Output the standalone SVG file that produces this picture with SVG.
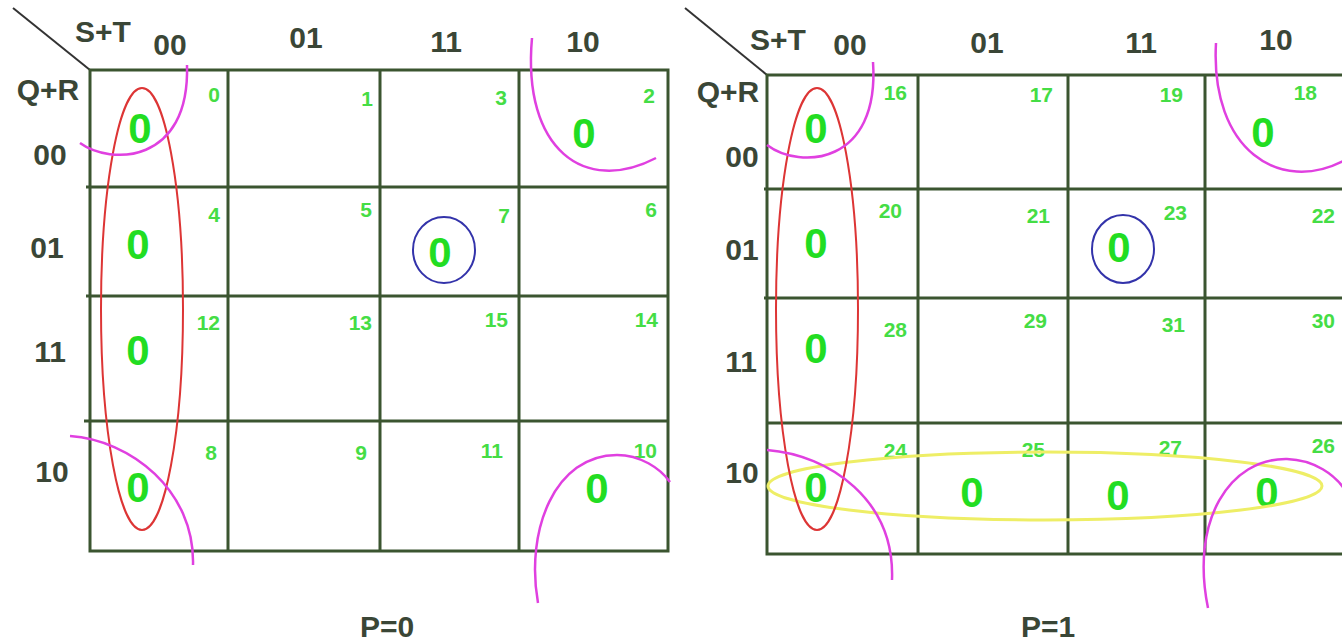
<svg xmlns="http://www.w3.org/2000/svg" width="1342" height="644" viewBox="0 0 1342 644">
<style>
.grid{fill:none;stroke:#3b5530;stroke-width:3}
.lab{font-family:"Liberation Sans",Arial,sans-serif;font-weight:bold;font-size:30px;fill:#3a4636;text-anchor:middle}
.num{font-family:"Liberation Sans",Arial,sans-serif;font-weight:bold;font-size:21px;fill:#45dd45;text-anchor:end}
.val{font-family:"Liberation Sans",Arial,sans-serif;font-weight:bold;font-size:42px;fill:#22dd22;text-anchor:middle}
.red{fill:none;stroke:#dd3535;stroke-width:2}
.mag{fill:none;stroke:#e040e0;stroke-width:2.5}
.blue{fill:none;stroke:#3333aa;stroke-width:2}
.yel{fill:none;stroke:#eeee66;stroke-width:3}
</style>
<rect width="1342" height="644" fill="#ffffff"/>

<!-- Left map P=0 -->
<g id="map-p0">
  <g id="grid-p0">
    <line x1="13" y1="8" x2="90" y2="70" stroke="#333" stroke-width="2"/>
    <rect class="grid" x="90" y="70" width="578" height="481"/>
    <line class="grid" x1="228" y1="70" x2="228" y2="551"/>
    <line class="grid" x1="380" y1="70" x2="380" y2="551"/>
    <line class="grid" x1="519" y1="70" x2="519" y2="551"/>
    <line class="grid" x1="86" y1="187" x2="668" y2="187"/>
    <line class="grid" x1="86" y1="296" x2="668" y2="296"/>
    <line class="grid" x1="84" y1="421" x2="668" y2="421"/>
  </g>
  <g id="labels-p0">
    <text class="lab" x="103" y="42">S+T</text>
    <text class="lab" x="170" y="55">00</text>
    <text class="lab" x="306" y="48">01</text>
    <text class="lab" x="446" y="52">11</text>
    <text class="lab" x="583" y="52">10</text>
    <text class="lab" x="48" y="100">Q+R</text>
    <text class="lab" x="50" y="165">00</text>
    <text class="lab" x="47" y="258">01</text>
    <text class="lab" x="50" y="362">11</text>
    <text class="lab" x="52" y="482">10</text>
    <text class="lab" x="387" y="637">P=0</text>
  </g>
  <g id="cells-p0">
    <g id="c0"><text class="num" x="220" y="102">0</text><text class="val" x="140" y="143">0</text></g>
    <g id="c1"><text class="num" x="373" y="106">1</text></g>
    <g id="c3"><text class="num" x="507" y="105">3</text></g>
    <g id="c2"><text class="num" x="655" y="103">2</text><text class="val" x="584" y="148">0</text></g>
    <g id="c4"><text class="num" x="220" y="222">4</text><text class="val" x="138" y="259">0</text></g>
    <g id="c5"><text class="num" x="372" y="217">5</text></g>
    <g id="c7"><text class="num" x="510" y="223">7</text><text class="val" x="440" y="267">0</text></g>
    <g id="c6"><text class="num" x="657" y="217">6</text></g>
    <g id="c12"><text class="num" x="220" y="330">12</text><text class="val" x="138" y="365">0</text></g>
    <g id="c13"><text class="num" x="372" y="330">13</text></g>
    <g id="c15"><text class="num" x="508" y="327">15</text></g>
    <g id="c14"><text class="num" x="658" y="327">14</text></g>
    <g id="c8"><text class="num" x="217" y="460">8</text><text class="val" x="138" y="502">0</text></g>
    <g id="c9"><text class="num" x="367" y="460">9</text></g>
    <g id="c11"><text class="num" x="503" y="458">11</text></g>
    <g id="c10"><text class="num" x="657" y="458">10</text><text class="val" x="597" y="503">0</text></g>
  </g>
  <g id="groups-p0">
    <ellipse class="red" cx="142" cy="309" rx="41" ry="221"/>
    <ellipse class="blue" cx="444" cy="250" rx="31" ry="33"/>
    <path class="mag" d="M80,143 C110,165 190,165 187,65"/>
    <path class="mag" d="M532,38 C522,150 585,195 656,158"/>
    <path class="mag" d="M70,436 C130,440 195,490 193,565"/>
    <path class="mag" d="M538,603 C525,530 555,455 617,455 C640,455 660,468 670,482"/>
  </g>
</g>

<!-- Right map P=1 -->
<g id="map-p1">
  <g id="grid-p1">
    <line x1="685" y1="8" x2="767" y2="75" stroke="#333" stroke-width="2"/>
    <rect class="grid" x="767" y="75" width="590" height="479"/>
    <line class="grid" x1="918" y1="75" x2="918" y2="554"/>
    <line class="grid" x1="1068" y1="75" x2="1068" y2="554"/>
    <line class="grid" x1="1205" y1="75" x2="1205" y2="554"/>
    <line class="grid" x1="764" y1="189" x2="1342" y2="189"/>
    <line class="grid" x1="764" y1="298" x2="1342" y2="298"/>
    <line class="grid" x1="767" y1="423" x2="1342" y2="423"/>
  </g>
  <g id="labels-p1">
    <text class="lab" x="778" y="50">S+T</text>
    <text class="lab" x="850" y="55">00</text>
    <text class="lab" x="987" y="53">01</text>
    <text class="lab" x="1141" y="53">11</text>
    <text class="lab" x="1276" y="50">10</text>
    <text class="lab" x="728" y="102">Q+R</text>
    <text class="lab" x="742" y="167">00</text>
    <text class="lab" x="742" y="260">01</text>
    <text class="lab" x="741" y="372">11</text>
    <text class="lab" x="742" y="483">10</text>
    <text class="lab" x="1048" y="637">P=1</text>
  </g>
  <g id="cells-p1">
    <g id="c16"><text class="num" x="907" y="100">16</text><text class="val" x="816" y="143">0</text></g>
    <g id="c17"><text class="num" x="1053" y="102">17</text></g>
    <g id="c19"><text class="num" x="1183" y="102">19</text></g>
    <g id="c18"><text class="num" x="1317" y="100">18</text><text class="val" x="1263" y="147">0</text></g>
    <g id="c20"><text class="num" x="902" y="218">20</text><text class="val" x="816" y="258">0</text></g>
    <g id="c21"><text class="num" x="1050" y="223">21</text></g>
    <g id="c23"><text class="num" x="1187" y="220">23</text><text class="val" x="1119" y="262">0</text></g>
    <g id="c22"><text class="num" x="1335" y="223">22</text></g>
    <g id="c28"><text class="num" x="907" y="337">28</text><text class="val" x="816" y="363">0</text></g>
    <g id="c29"><text class="num" x="1047" y="328">29</text></g>
    <g id="c31"><text class="num" x="1185" y="332">31</text></g>
    <g id="c30"><text class="num" x="1335" y="328">30</text></g>
    <g id="c24"><text class="num" x="907" y="458">24</text><text class="val" x="816" y="502">0</text></g>
    <g id="c25"><text class="num" x="1045" y="457">25</text><text class="val" x="972" y="507">0</text></g>
    <g id="c27"><text class="num" x="1182" y="455">27</text><text class="val" x="1118" y="510">0</text></g>
    <g id="c26"><text class="num" x="1335" y="453">26</text><text class="val" x="1267" y="507">0</text></g>
  </g>
  <g id="groups-p1">
    <ellipse class="yel" cx="1045" cy="486" rx="277" ry="34"/>
    <ellipse class="red" cx="817" cy="309" rx="41" ry="221"/>
    <ellipse class="blue" cx="1123" cy="249" rx="31" ry="34"/>
    <path class="mag" d="M767,145 C800,170 880,165 873,62"/>
    <path class="mag" d="M1216,43 C1210,150 1280,195 1345,160"/>
    <path class="mag" d="M767,450 C830,455 895,500 892,580"/>
    <path class="mag" d="M1208,608 C1190,520 1230,458 1287,459 C1315,460 1335,475 1345,490"/>
  </g>
</g>
</svg>
